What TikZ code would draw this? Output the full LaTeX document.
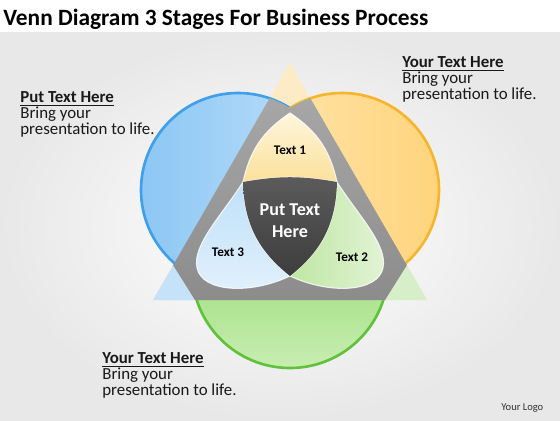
\documentclass[tikz,border=0pt]{standalone}
\usepackage{fontspec}
\setmainfont{Carlito}
\definecolor{bluering}{HTML}{3F9FEB}
\definecolor{bluefill}{HTML}{8CC7F4}
\definecolor{bluelite}{HTML}{BFE0FA}
\definecolor{orgring}{HTML}{F7B52C}
\definecolor{orgfill}{HTML}{FFD47C}
\definecolor{orglite}{HTML}{FFE6B0}
\definecolor{grnring}{HTML}{5FC23A}
\definecolor{grnfill}{HTML}{7CD352}
\definecolor{grnlite}{HTML}{C8EDB2}
\definecolor{bandlt}{HTML}{ABABAB}
\definecolor{banddk}{HTML}{8C8C8C}
\definecolor{paleyel}{HTML}{FDEBC6}
\definecolor{paleblu}{HTML}{C5E2F8}
\definecolor{palegrn}{HTML}{D6EFC8}
\definecolor{inyel}{HTML}{FBE09B}
\definecolor{inyellt}{HTML}{FFF6DC}
\definecolor{inblu}{HTML}{BFE0F9}
\definecolor{ingrn}{HTML}{BFE6A4}
\definecolor{coreA}{HTML}{5B5B5B}
\definecolor{coreB}{HTML}{3D3D3D}
\begin{document}
\begin{tikzpicture}[x=0.02cm,y=0.02cm,
 blk/.style={anchor=north west,align=left,inner sep=0pt,text=black!90,font=\fontsize{9.6}{9.1}\selectfont},
 lbl/.style={inner sep=0pt,font=\fontsize{7.5}{9}\selectfont\bfseries},
 rim/.style={draw=white,draw opacity=0.8,line width=0.6pt}]
\useasboundingbox (0,0) rectangle (560,420);
\fill[white] (0,0) rectangle (560,420);
\shade[inner color=white,outer color=black!9] (0,0) rectangle (560,387);
\coordinate (apex) at (290,357);
\coordinate (bl) at (153,120);
\coordinate (br) at (427,120);
\coordinate (cb) at (238,230);
\coordinate (co) at (342,230);
\coordinate (cg) at (290,150);
\fill[paleyel] (apex) -- (bl) -- (br) -- cycle;
\fill[paleblu] (bl) -- (290,120) -- (290,199) -- (221.5,238.5) -- cycle;
\fill[palegrn] (br) -- (290,120) -- (290,199) -- (358.5,238.5) -- cycle;
\shade[left color=bluefill,right color=bluelite,draw=bluering,line width=1.5pt] (cb) circle[radius=97];
\shade[left color=orglite,right color=orgfill,draw=orgring,line width=1.5pt] (co) circle[radius=97];
\shade[top color=grnfill,middle color=grnfill,bottom color=grnlite,draw=grnring,line width=1.5pt] (cg) circle[radius=98];
\begin{scope}
\clip (apex) -- (bl) -- (br) -- cycle;
\clip (cb) circle[radius=97] (co) circle[radius=97] (cg) circle[radius=98]
 (173,155) -- (195,120) -- (385,120) -- (407,155) -- (290,300) -- cycle;
\shade[top color=bandlt,bottom color=banddk] (153,120) rectangle (427,357);
\end{scope}
\coordinate (top) at (290,307);
\coordinate (d1) at (243,238);
\coordinate (d2) at (337,238);
\coordinate (d3) at (290,144);
\shade[top color=inyellt,bottom color=inyel,rim] (d1) to[bend left=22] (top) to[bend left=22] (d2) to[bend right=10] (d1) -- cycle;
\shade[top color=inblu,bottom color=white!55!inblu,rim] (d1) .. controls (222,205) and (192,175) .. (197,152)
 .. controls (202,128) and (250,125) .. (d3) to[bend left=25] (d1) -- cycle;
\shade[left color=ingrn,right color=white!55!ingrn,rim] (d2) .. controls (358,205) and (388,175) .. (383,152)
 .. controls (378,128) and (330,125) .. (d3) to[bend right=25] (d2) -- cycle;
\shade[top color=coreA,bottom color=coreB] (d1) to[bend left=10] (d2) to[bend left=25] (d3) to[bend left=25] (d1) -- cycle;
\node[lbl] (t1) at (290,270) {Text 1};
\node[lbl] (t3) at (228,168) {Text 3};
\node[lbl] (t2) at (352,163) {Text 2};
\node[white,align=center,inner sep=0pt,font=\fontsize{10.3}{12.5}\selectfont\bfseries] (ctr) at (290,199) {Put Text\\Here};
\node[anchor=base west,inner sep=0pt,font=\fontsize{13.3}{15}\selectfont\bfseries] (title) at (3,395) {Venn Diagram 3 Stages For Business Process};
\node[blk] (lt) at (20,329) {\underline{\textbf{Put Text Here}}\\Bring your\\presentation to life.};
\node[blk] (rt) at (402,364) {\underline{\textbf{Your Text Here}}\\Bring your\\presentation to life.};
\node[blk] (bt) at (102,68) {\underline{\textbf{Your Text Here}}\\Bring your\\presentation to life.};
\node[anchor=base west,inner sep=0pt,text=black!80,font=\fontsize{6}{7}\selectfont] (logo) at (501,9.5) {Your Logo};
\end{tikzpicture}
\end{document}
